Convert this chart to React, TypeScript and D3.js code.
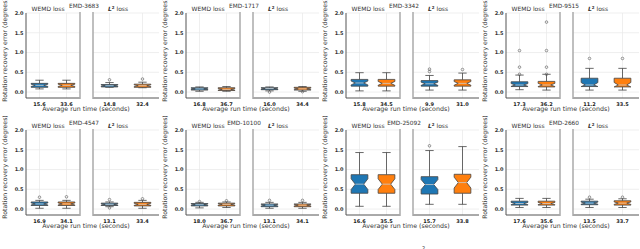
import React, { useEffect, useRef } from 'react';
import * as d3 from 'd3';

// one entry per dataset (panel)
const titles = ['EMD-3683', 'EMD-1717', 'EMD-3342', 'EMD-9515', 'EMD-4547', 'EMD-10100', 'EMD-25092', 'EMD-2660'];

// average run time labels: [WEMD fast, WEMD slow, L2 fast, L2 slow]
const runTimes = [
  ['15.6', '33.6', '14.8', '32.4'],
  ['16.8', '36.7', '16.0', '34.4'],
  ['15.8', '34.5', '9.9', '31.0'],
  ['17.3', '36.2', '11.2', '33.5'],
  ['16.9', '34.1', '13.1', '33.4'],
  ['18.0', '36.7', '13.1', '34.1'],
  ['16.6', '35.5', '15.7', '33.8'],
  ['17.6', '35.6', '13.5', '33.7'],
];

// box stats [whisker low, q1, median, q3, whisker high], same order as runTimes
const boxStats = [
  [[0.08, 0.12, 0.17, 0.22, 0.30], [0.08, 0.12, 0.17, 0.22, 0.30], [0.12, 0.13, 0.16, 0.19, 0.24], [0.11, 0.12, 0.16, 0.20, 0.25]],
  [[0.02, 0.05, 0.08, 0.11, 0.13], [0.02, 0.04, 0.07, 0.11, 0.14], [0.03, 0.06, 0.09, 0.11, 0.13], [0.02, 0.05, 0.08, 0.12, 0.14]],
  [[0.03, 0.15, 0.23, 0.32, 0.49], [0.03, 0.15, 0.22, 0.32, 0.49], [0.05, 0.15, 0.21, 0.29, 0.42], [0.05, 0.15, 0.22, 0.31, 0.48]],
  [[0.06, 0.14, 0.18, 0.26, 0.43], [0.05, 0.13, 0.18, 0.27, 0.45], [0.05, 0.14, 0.18, 0.35, 0.60], [0.05, 0.13, 0.18, 0.35, 0.60]],
  [[0.02, 0.09, 0.13, 0.18, 0.22], [0.02, 0.09, 0.13, 0.18, 0.22], [0.06, 0.09, 0.12, 0.15, 0.18], [0.02, 0.08, 0.12, 0.17, 0.22]],
  [[0.03, 0.08, 0.11, 0.14, 0.17], [0.04, 0.08, 0.12, 0.15, 0.18], [0.02, 0.06, 0.10, 0.13, 0.17], [0.02, 0.06, 0.10, 0.13, 0.17]],
  [[0.07, 0.40, 0.63, 0.87, 1.43], [0.07, 0.40, 0.63, 0.87, 1.43], [0.12, 0.38, 0.62, 0.82, 1.48], [0.12, 0.40, 0.67, 0.88, 1.58]],
  [[0.04, 0.10, 0.14, 0.20, 0.27], [0.04, 0.10, 0.14, 0.20, 0.27], [0.04, 0.11, 0.15, 0.20, 0.25], [0.04, 0.10, 0.15, 0.21, 0.26]],
];

const outliers = [
  [[], [], [0.31], [0.33]],
  [[], [], [0.0], [0.01]],
  [[], [], [0.52, 0.58], [0.57]],
  [[0.45, 0.63, 1.05], [0.45, 0.63, 1.05, 1.77], [0.85], [0.85]],
  [[0.30], [0.31], [0.24, 0.03], [0.26]],
  [[0.19], [0.21], [0.22], [0.22]],
  [[], [], [1.60], []],
  [[], [], [0.30], [0.30]],
];

const yTicks = [0, 0.5, 1, 1.5, 2];
const lossNames = ['WEMD', 'L2'];
const colors = ['#1f77b4', '#ff7f0e'];
const sampleCount = 30; // used for notch size, as matplotlib does

const W = 640;
const H = 249;

function App() {
  const ref = useRef<SVGSVGElement>(null);

  useEffect(() => {
    const svg = d3.select(ref.current);
    svg.selectAll('*').remove();
    const font = 'DejaVu Sans, sans-serif';

    titles.forEach((title, p) => {
      const col = p % 4;
      const row = Math.floor(p / 4);
      const g = svg.append('g').attr('transform', `translate(${col * 160},${row * 117})`);

      const y = d3.scaleLinear().domain([-0.15, 2.0]).range([98, 13]);

      // y label
      g.append('text')
        .attr('transform', 'translate(7,50) rotate(-90)')
        .attr('text-anchor', 'middle')
        .attr('font-family', font)
        .attr('font-size', 6.2)
        .attr('fill', '#333')
        .text('Rotation recovery error (degrees)');

      // panel title
      g.append('text')
        .attr('x', 84).attr('y', 8)
        .attr('text-anchor', 'middle')
        .attr('font-family', font)
        .attr('font-size', 5.8)
        .attr('fill', '#333')
        .text(title);

      // x label
      g.append('text')
        .attr('x', 86).attr('y', 111)
        .attr('text-anchor', 'middle')
        .attr('font-family', font)
        .attr('font-size', 6.3)
        .attr('fill', '#333')
        .text('Average run time (seconds)');

      const ranges: [number, number][] = [[26, 80], [93, 159]];

      lossNames.forEach((loss, s) => {
        const [x0, x1] = ranges[s];
        const x = d3.scalePoint<number>().domain([0, 1]).range([x0, x1]).padding(0.5);
        const band = 27;
        const ax = g.append('g');

        // grid
        yTicks.forEach((t) => {
          ax.append('line')
            .attr('x1', x0).attr('x2', x1)
            .attr('y1', y(t)).attr('y2', y(t))
            .attr('stroke', '#e8e8e8').attr('stroke-width', 0.7);
        });
        [0, 1].forEach((i) => {
          ax.append('line')
            .attr('x1', x(i)!).attr('x2', x(i)!)
            .attr('y1', y(2)).attr('y2', y(-0.15))
            .attr('stroke', '#e8e8e8').attr('stroke-width', 0.7);
        });

        // subplot title
        const st = ax.append('text')
          .attr('x', s === 1 ? 118 : 48).attr('y', 11)
          .attr('text-anchor', 'middle')
          .attr('font-family', font)
          .attr('font-size', 6)
          .attr('fill', '#333');
        if (loss === 'L2') {
          st.append('tspan').attr('font-weight', 'bold').attr('font-style', 'italic').text('L');
          st.append('tspan').attr('dy', -2.2).attr('font-size', 4).attr('font-weight', 'bold').text('2');
          st.append('tspan').attr('dy', 2.2).text(' loss');
        } else {
          st.text('WEMD loss');
        }

        // y tick labels only on first subplot
        if (s === 0) {
          yTicks.forEach((t) => {
            ax.append('text')
              .attr('x', x0 - 2.5).attr('y', y(t) + 1.8)
              .attr('text-anchor', 'end')
              .attr('font-family', font)
              .attr('font-size', 5)
              .attr('font-weight', 'bold')
              .attr('fill', '#333')
              .text(d3.format('.1f')(t));
          });
        }

        // boxes
        [0, 1].forEach((i) => {
          const k = s * 2 + i;
          const [lo, q1, med, q3, hi] = boxStats[p][k];
          const cx = x(i)!;
          const bw = band * 0.62;
          const half = bw / 2;
          const stroke = '#444';
          const notch = (1.57 * (q3 - q1)) / Math.sqrt(sampleCount);
          const nlo = Math.max(q1, med - notch);
          const nhi = Math.min(q3, med + notch);

          // whiskers
          ax.append('line').attr('x1', cx).attr('x2', cx).attr('y1', y(q1)).attr('y2', y(lo))
            .attr('stroke', stroke).attr('stroke-width', 0.8);
          ax.append('line').attr('x1', cx).attr('x2', cx).attr('y1', y(q3)).attr('y2', y(hi))
            .attr('stroke', stroke).attr('stroke-width', 0.8);
          [lo, hi].forEach((v) => {
            ax.append('line').attr('x1', cx - half / 2).attr('x2', cx + half / 2)
              .attr('y1', y(v)).attr('y2', y(v))
              .attr('stroke', stroke).attr('stroke-width', 0.8);
          });

          const path = d3.path();
          path.moveTo(cx - half, y(q1));
          path.lineTo(cx + half, y(q1));
          path.lineTo(cx + half, y(nlo));
          path.lineTo(cx + half / 2, y(med));
          path.lineTo(cx + half, y(nhi));
          path.lineTo(cx + half, y(q3));
          path.lineTo(cx - half, y(q3));
          path.lineTo(cx - half, y(nhi));
          path.lineTo(cx - half / 2, y(med));
          path.lineTo(cx - half, y(nlo));
          path.closePath();
          ax.append('path').attr('d', path.toString())
            .attr('fill', colors[i]).attr('stroke', stroke).attr('stroke-width', 0.8);

          ax.append('line').attr('x1', cx - half / 2).attr('x2', cx + half / 2)
            .attr('y1', y(med)).attr('y2', y(med))
            .attr('stroke', '#ccc').attr('stroke-width', 0.8);

          outliers[p][k].forEach((v) => {
            ax.append('circle').attr('cx', cx).attr('cy', y(v)).attr('r', 1.3)
              .attr('fill', 'none').attr('stroke', '#555').attr('stroke-width', 0.6);
          });

          // x tick label
          ax.append('text')
            .attr('x', cx).attr('y', 105.5)
            .attr('text-anchor', 'middle')
            .attr('font-family', font)
            .attr('font-size', 5)
            .attr('font-weight', 'bold')
            .attr('fill', '#222')
            .text(runTimes[p][k]);
        });

        // spines
        ax.append('line').attr('x1', x0).attr('x2', x1).attr('y1', 98).attr('y2', 98)
          .attr('stroke', '#555').attr('stroke-width', 1);
        if (s === 0) {
          ax.append('line').attr('x1', x0).attr('x2', x0).attr('y1', 13).attr('y2', 98)
            .attr('stroke', '#555').attr('stroke-width', 1);
          ax.append('line').attr('x1', x1).attr('x2', x1).attr('y1', 12).attr('y2', 99)
            .attr('stroke', '#aaa').attr('stroke-width', 1.5);
        } else {
          ax.append('line').attr('x1', x0).attr('x2', x0).attr('y1', 12).attr('y2', 99)
            .attr('stroke', '#aaa').attr('stroke-width', 1.5);
        }
      });
    });

    // stray superscript from the caption below the figure
    svg.append('text').attr('x', 422).attr('y', 250)
      .attr('font-family', font).attr('font-size', 5).attr('fill', '#333').text('2');
  }, []);

  return (
    <svg
      ref={ref}
      width={W}
      height={H}
      style={{ position: 'absolute', left: 0, top: 0, background: '#fff' }}
    />
  );
}

export default App;
